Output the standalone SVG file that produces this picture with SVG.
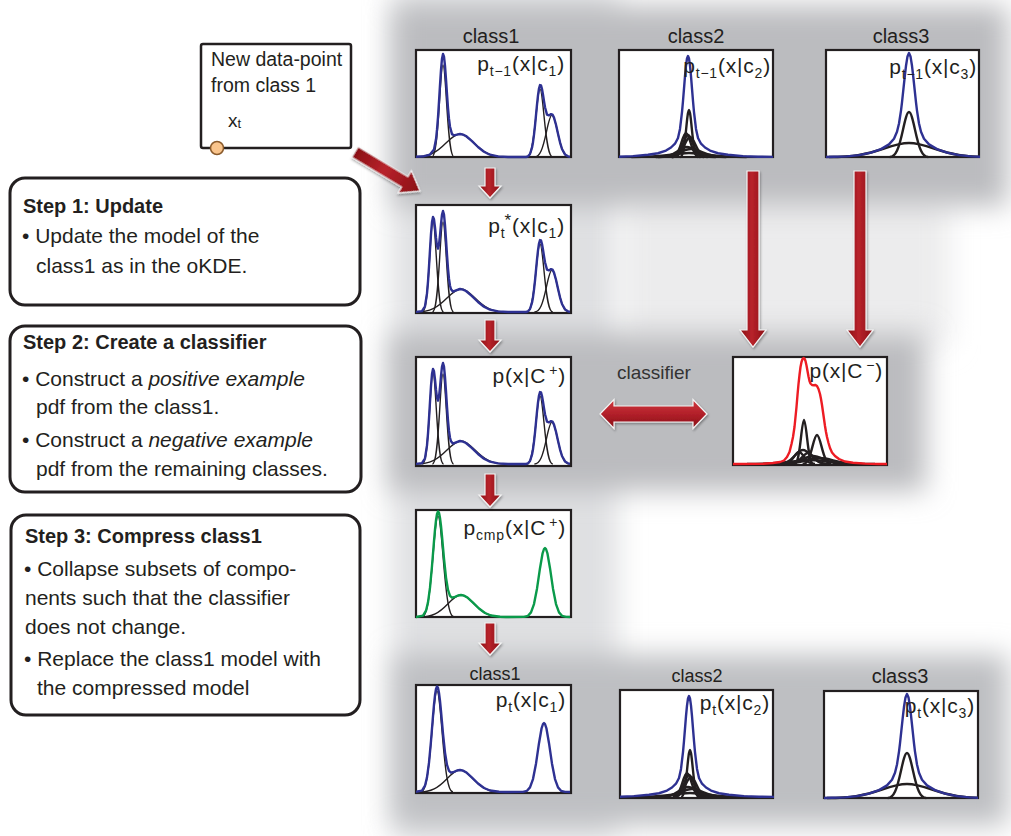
<svg xmlns="http://www.w3.org/2000/svg" xmlns:xlink="http://www.w3.org/1999/xlink" width="1011" height="836" viewBox="0 0 1011 836">
<defs>
<style>
.bx{fill:#fff;stroke:#231f20;stroke-width:2.2}
.env{fill:none;stroke-width:2.4;stroke-linejoin:round;stroke-linecap:round}
.blue{stroke:#2e3192}
.grn{stroke:#0a9a4a}
.red{stroke:#ed1c24}
.cmp{fill:none;stroke:#231f20;stroke-width:1.4}
.cmpk{fill:none;stroke:#231f20;stroke-width:2.4}
.pl{font-family:"Liberation Sans",Arial,sans-serif;font-size:21px;fill:#231f20;letter-spacing:0.8px}
.sb{font-size:14px}
.cls{font-family:"Liberation Sans",Arial,sans-serif;font-size:20px;fill:#231f20;text-anchor:middle}
.st{font-family:"Liberation Sans",Arial,sans-serif;font-size:21px;fill:#231f20}
.sth{font-weight:bold;font-size:20px}
.sbox{fill:#fff;stroke:#231f20;stroke-width:3}
.arr{stroke:#f4f4f4;stroke-width:1.2;filter:url(#sh)}
.pan{filter:url(#bl)}
</style>
<filter id="bl" filterUnits="userSpaceOnUse" x="-100" y="-100" width="1250" height="1050"><feGaussianBlur stdDeviation="14"/></filter>
<filter id="sh" x="-30%" y="-30%" width="160%" height="160%"><feDropShadow dx="1" dy="1.5" stdDeviation="1.2" flood-color="#000" flood-opacity="0.35"/></filter>
<clipPath id="pc"><rect x="0" y="-2" width="154" height="111"/></clipPath>
<linearGradient id="gv" x1="0" y1="0" x2="1" y2="0"><stop offset="0" stop-color="#8a0f15"/><stop offset="0.45" stop-color="#b8232b"/><stop offset="1" stop-color="#8a0f15"/></linearGradient>
<linearGradient id="gh" x1="0" y1="0" x2="0" y2="1"><stop offset="0" stop-color="#d0373d"/><stop offset="0.5" stop-color="#b2202a"/><stop offset="1" stop-color="#870e15"/></linearGradient>
<path id="gs" d="M-3.2,0C-2.2,0-1.7,-.182-1,-.6065C-.667,-.8087-.333,-1,0,-1C.333,-1 .667,-.8087 1,-.6065C1.7,-.182 2.2,0 3.2,0" fill="none" vector-effect="non-scaling-stroke"/>
<polyline id="envA" points="0,106.8 8,106.2 14,104.6 18,99.5 20,89.3 21,79.7 22,67.3 23,51.6 24,35 25,19.8 26,8.7 27,4 28,6.7 29,15.9 30,29.3 31,44.1 32,58 33,68.9 34,76.7 36,84.1 38,85.3 41,84.6 44,84 47,84.6 50,86 56,91.1 62,97 68,101.7 74,104.7 82,106.4 92,107 110,107 112,106.3 114,104 116,97.7 117,92.2 118,84.7 119,75.6 120,65.2 121,54.7 122,45.4 123,38.5 124,35.1 125,35.4 126,39 127,44.8 128,51.1 129,57.2 131,64.6 133,65.4 135,64.1 136.5,64.6 138,67.6 140,74.8 142,83.8 144,92.3 146,99 149,104.4 152,106.3 155,107"/>
<polyline id="envB" points="0,106.9 6,106.1 9,101.3 11,88.4 12,76.7 13,61.6 14,44.8 15,28.9 16,17 17,12 18,14.3 19,22.4 20,32.7 21,40.8 22,43.6 23,39.7 24,30.3 25,19 26,9.7 27,6 28,9.6 29,20.1 30,34.4 31,49.8 32,63.5 33,73.9 34,80.7 35,84.3 37,86.6 40,85.4 44,84 47,84.6 50,86 56,91.1 62,97 68,101.7 74,104.7 82,106.4 92,107 110,107 112,106.3 114,104 116,97.7 117,92.2 118,84.7 119,75.6 120,65.2 121,54.7 122,45.4 123,38.5 124,35.1 125,35.4 126,39 127,44.8 128,51.1 129,57.2 131,64.6 133,65.4 135,64.1 136.5,64.6 138,67.6 140,74.8 142,83.8 144,92.3 146,99 149,104.4 152,106.3 155,107"/>
<polyline id="envD" points="0,107 7,105.6 10,100.7 12,92.4 14,77.7 16,56 18,31.2 19,19.6 20,10.3 21,4 22,1.4 23,2.7 24,7.9 25,15.9 26,26.1 28,48.5 30,67.6 32,79.9 34,85.9 36,87.7 39,86.9 42,85.5 45,85 48,85.6 51,87.2 57,92.6 63,98.5 69,103 75,105.5 84,106.8 90,107 108,106.85 112,105.8 115,102.4 118,94.1 121,78.7 124,58.2 126.5,43.7 128,39 129,38 130,39 131.5,43.7 134,58.2 137,78.7 140,94.1 143,102.4 146,105.8 150,106.85 155,107"/>
<polyline id="envF" points="0,106.7 14,106.1 29,104.8 39,103.25 47,100.6 52,97.5 56,93.7 59,88 61,78.9 63,62.2 64,51 65,38.6 66,26.1 67,15.6 68,8.5 69,6 70,8.5 71,15.6 72,26.1 73,38.6 74,51 75,62.2 77,78.9 79,88 82,93.7 86,97.5 91,100.6 99,103.25 109,104.8 124,106.1 139,106.7 155,106.9"/>
<polyline id="envG" points="0,107 8,106.8 21,106.4 33,105.1 45,102.6 55,99.1 63,94.4 68,88.7 71,81.7 73,73.5 75,60.6 76,52.4 78,33.7 79,24.3 80,15.8 81.5,6.4 83,3 84.5,6.4 86,15.8 87,24.3 88,33.7 90,52.4 91,60.6 93,73.5 95,81.7 98,88.7 103,94.4 111,99.1 121,102.6 133,105.1 145,106.4 155,106.8"/>
<polyline id="envH" points="0,107 30,106.8 40,106 47,105 51,103.5 54,100 56.5,95 58.5,87 60,80 61.5,70 62.5,60 63.5,50 64.5,38 65.5,27 66.5,18 67.5,10 68.5,5 69.5,2 70.5,1 71.5,1.5 72.5,4 73.5,8.5 74.5,14 75.5,19.5 76.5,24 77.5,26.5 79,28 81,28.3 82.5,28 84,29 85.5,32 87,37 88,42 89,48 90,55 91,62 92,69 93,75 94,80 95.5,86 97,91 99,95.5 102,99 106,102 112,104.5 120,105.8 132,106.6 145,107 155,107"/>
<g id="cA">
<use href="#gs" transform="translate(27,107) scale(3.5,92)"/>
<use href="#gs" transform="translate(44,107) scale(14,23)"/>
<use href="#gs" transform="translate(124,107) scale(4,68)"/>
<use href="#gs" transform="translate(136,107) scale(5.5,42)"/>
</g>
<g id="cB">
<use href="#gs" transform="translate(17,107) scale(3.3,91)"/>
<use href="#gs" transform="translate(27,107) scale(3.3,90)"/>
<use href="#gs" transform="translate(45,107) scale(14,23)"/>
<use href="#gs" transform="translate(124,107) scale(4,68)"/>
<use href="#gs" transform="translate(136,107) scale(5.5,42)"/>
</g>
<g id="cD">
<use href="#gs" transform="translate(22,107) scale(5,101)"/>
<use href="#gs" transform="translate(45,107) scale(13,22)"/>
</g>
<g id="cF">
<use href="#gs" transform="translate(70,107) scale(2.8,47)"/>
<use href="#gs" transform="translate(67,107) scale(4.5,24)"/>
<use href="#gs" transform="translate(69,107) scale(5,22)"/>
<use href="#gs" transform="translate(71,107) scale(5.5,20)"/>
<use href="#gs" transform="translate(68,107) scale(9,10)"/>
<use href="#gs" transform="translate(72,107) scale(11,8)"/>
<use href="#gs" transform="translate(70,107) scale(18,4)"/>
</g>
<g id="cG">
<use href="#gs" transform="translate(83,107) scale(6,45)"/>
<use href="#gs" transform="translate(83,107) scale(25,14)"/>
</g>
<g id="cH">
<use href="#gs" transform="translate(71,107) scale(3,44)"/>
<use href="#gs" transform="translate(84,107) scale(4.5,29)"/>
<use href="#gs" transform="translate(66,107) scale(5,12)"/>
<use href="#gs" transform="translate(75,107) scale(6,11)"/>
<use href="#gs" transform="translate(70,107) scale(8,14)"/>
<use href="#gs" transform="translate(80,107) scale(10,8)"/>
<use href="#gs" transform="translate(87,107) scale(13,6)"/>
<use href="#gs" transform="translate(78,107) scale(20,4)"/>
</g>
</defs>

<g id="bg">
<rect class="pan" x="392" y="-10" width="226" height="850" fill="#dfe0e2"/>
<rect class="pan" x="620" y="195" width="330" height="150" fill="#ececed"/>
<rect class="pan" x="394" y="6" width="614" height="200" fill="#bbbcbf"/>
<rect class="pan" x="390" y="333" width="536" height="158" fill="#bbbcbf"/>
<rect class="pan" x="394" y="655" width="614" height="170" fill="#bebfc2"/>
</g>

<g id="n-datapoint">
<rect x="201" y="44" width="150" height="104" rx="2" fill="#fff" stroke="#231f20" stroke-width="2.5"/>
<text class="st" x="211" y="66" style="font-size:19.5px">New data-point</text>
<text class="st" x="211" y="92" style="font-size:19.5px">from class 1</text>
<text class="st" x="228" y="127" style="font-size:19px">x<tspan style="font-size:13px" dy="1">t</tspan></text>
<circle cx="217" cy="148" r="6.5" fill="#f9c48c" stroke="#8a5a2b" stroke-width="1.5"/>
</g>

<g id="n-step1">
<rect class="sbox" x="10" y="178" width="350" height="127" rx="15"/>
<text class="st sth" x="23" y="213">Step 1: Update</text>
<text class="st" x="22" y="243">• Update the model of the</text>
<text class="st" x="36" y="273">class1 as in the oKDE.</text>
</g>

<g id="n-step2">
<rect class="sbox" x="10" y="326" width="351" height="166" rx="15"/>
<text class="st sth" x="23" y="349">Step 2: Create a classifier</text>
<text class="st" x="22" y="386">• Construct a <tspan font-style="italic">positive example</tspan></text>
<text class="st" x="36" y="414">pdf from the class1.</text>
<text class="st" x="22" y="447">• Construct a <tspan font-style="italic">negative example</tspan></text>
<text class="st" x="36" y="476">pdf from the remaining classes.</text>
</g>

<g id="n-step3">
<rect class="sbox" x="11" y="515" width="349" height="200" rx="15"/>
<text class="st sth" x="25" y="543">Step 3: Compress class1</text>
<text class="st" x="24" y="576">• Collapse subsets of compo-</text>
<text class="st" x="25" y="605">nents such that the classifier</text>
<text class="st" x="25" y="634">does not change.</text>
<text class="st" x="24" y="666">• Replace the class1 model with</text>
<text class="st" x="37" y="695">the compressed model</text>
</g>

<g id="labels">
<text class="cls" x="491" y="43">class1</text>
<text class="cls" x="696" y="43">class2</text>
<text class="cls" x="901" y="43">class3</text>
<text class="cls" x="495" y="680" style="font-size:18px">class1</text>
<text class="cls" x="697" y="682" style="font-size:18px">class2</text>
<text class="cls" x="900" y="683">class3</text>
<text class="cls" x="654" y="379" style="font-size:19px;fill:#333">classifier</text>
</g>

<g id="n-top-c1" transform="translate(416,50)">
<rect class="bx" width="155" height="107"/>
<g clip-path="url(#pc)"><use href="#cA" class="cmp"/><use href="#envA" class="env blue"/></g>
<text class="pl" x="149" y="21" text-anchor="end">p<tspan class="sb" dy="5">t−1</tspan><tspan dy="-5">(x|c</tspan><tspan class="sb" dy="5">1</tspan><tspan dy="-5">)</tspan></text>
</g>

<g id="n-top-c2" transform="translate(619,50)">
<rect class="bx" width="154" height="107"/>
<g clip-path="url(#pc)"><use href="#cF" class="cmpk"/><use href="#envF" class="env blue"/></g>
<text class="pl" x="152" y="23" text-anchor="end">p<tspan class="sb" dy="5">t−1</tspan><tspan dy="-5">(x|c</tspan><tspan class="sb" dy="5">2</tspan><tspan dy="-5">)</tspan></text>
</g>

<g id="n-top-c3" transform="translate(826,50)">
<rect class="bx" width="153" height="107"/>
<g clip-path="url(#pc)"><use href="#cG" class="cmpk"/><use href="#envG" class="env blue"/></g>
<text class="pl" x="151" y="24" text-anchor="end">p<tspan class="sb" dy="5">t−1</tspan><tspan dy="-5">(x|c</tspan><tspan class="sb" dy="5">3</tspan><tspan dy="-5">)</tspan></text>
</g>

<g id="n-pstar" transform="translate(416,205)">
<rect class="bx" width="155" height="108"/>
<g clip-path="url(#pc)"><use href="#cB" class="cmp"/><use href="#envB" class="env blue"/></g>
<text class="pl" x="149" y="28" text-anchor="end">p<tspan class="sb" dy="5">t</tspan><tspan style="font-size:17px" dx="-1" dy="-12">*</tspan><tspan dy="7">(x|c</tspan><tspan class="sb" dy="5">1</tspan><tspan dy="-5">)</tspan></text>
</g>

<g id="n-cplus" transform="translate(416,357)">
<rect class="bx" width="155" height="109"/>
<g clip-path="url(#pc)"><use href="#cB" class="cmp"/><use href="#envB" class="env blue"/></g>
<text class="pl" x="150" y="26" text-anchor="end">p(x|C<tspan class="sb" dx="3" dy="-8">+</tspan><tspan dy="8">)</tspan></text>
</g>

<g id="n-cminus" transform="translate(733,357)">
<rect class="bx" width="154" height="108"/>
<g clip-path="url(#pc)"><use href="#cH" class="cmpk"/><use href="#envH" class="env red"/></g>
<text class="pl" x="150" y="21" text-anchor="end">p(x|C<tspan class="sb" dx="3" dy="-8">−</tspan><tspan dy="8">)</tspan></text>
</g>

<g id="n-pcmp" transform="translate(416,510)">
<rect class="bx" width="155" height="107"/>
<g clip-path="url(#pc)"><use href="#cD" class="cmp"/><use href="#envD" class="env grn"/></g>
<text class="pl" x="150" y="25" text-anchor="end">p<tspan class="sb" dy="5">cmp</tspan><tspan dy="-5">(x|C</tspan><tspan class="sb" dx="3" dy="-8">+</tspan><tspan dy="8">)</tspan></text>
</g>

<g id="n-bot-c1" transform="translate(416,685)">
<rect class="bx" width="155" height="108"/>
<g clip-path="url(#pc)"><use href="#cD" class="cmp" transform="translate(-1,0)"/><use href="#envD" class="env blue" transform="translate(-1,0)"/></g>
<text class="pl" x="150" y="22" text-anchor="end">p<tspan class="sb" dy="5">t</tspan><tspan dy="-5">(x|c</tspan><tspan class="sb" dy="5">1</tspan><tspan dy="-5">)</tspan></text>
</g>

<g id="n-bot-c2" transform="translate(620,690)">
<rect class="bx" width="153" height="108"/>
<g clip-path="url(#pc)"><use href="#cF" class="cmpk"/><use href="#envF" class="env blue"/></g>
<text class="pl" x="150" y="20" text-anchor="end">p<tspan class="sb" dy="5">t</tspan><tspan dy="-5">(x|c</tspan><tspan class="sb" dy="5">2</tspan><tspan dy="-5">)</tspan></text>
</g>

<g id="n-bot-c3" transform="translate(824,691)">
<rect class="bx" width="154" height="107"/>
<g clip-path="url(#pc)"><use href="#cG" class="cmpk"/><use href="#envG" class="env blue"/></g>
<text class="pl" x="151" y="22" text-anchor="end">p<tspan class="sb" dy="5">t</tspan><tspan dy="-5">(x|c</tspan><tspan class="sb" dy="5">3</tspan><tspan dy="-5">)</tspan></text>
</g>

<g id="connectors">
<polygon class="arr" fill="url(#gv)" transform="translate(355,152) rotate(31)" points="0,-6 58,-6 58,-13 76,0 58,13 58,6 0,6"/>
<polygon class="arr" fill="url(#gv)" points="485,168 495,168 495,186 501,186 490,198 479,186 485,186"/>
<polygon class="arr" fill="url(#gv)" points="485,320 495,320 495,340 501,340 490,352 479,340 485,340"/>
<polygon class="arr" fill="url(#gv)" points="485,474 495,474 495,495 501,495 490,507 479,495 485,495"/>
<polygon class="arr" fill="url(#gv)" points="485,623 495,623 495,643 501,643 490,655 479,643 485,643"/>
<polygon class="arr" fill="url(#gv)" points="747,171 759,171 759,330 766,330 753,347 740,330 747,330"/>
<polygon class="arr" fill="url(#gv)" points="854,171 866,171 866,330 873,330 860,347 847,330 854,330"/>
<polygon class="arr" fill="url(#gh)" points="600,414 614,399.5 614,406 693,406 693,399.5 707,414 693,428.5 693,422 614,422 614,428.5"/>
</g>
</svg>
